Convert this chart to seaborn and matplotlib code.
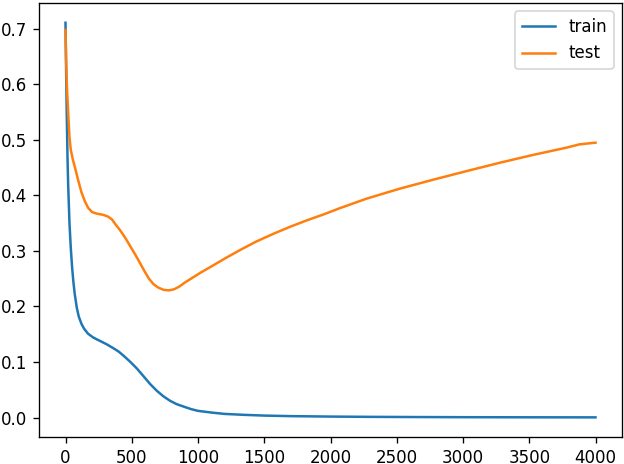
import matplotlib
matplotlib.use("Agg")
import matplotlib.pyplot as plt
import seaborn as sns

# train loss curve
train_epochs = [0, 5, 10, 15, 20, 30, 40, 50, 60, 70, 85, 100, 120, 140, 170,
                210, 260, 310, 360, 400, 440, 490, 540, 590, 640, 690, 740,
                790, 840, 900, 950, 1000, 1100, 1200, 1350, 1500, 1700, 2000,
                2300, 2600, 3000, 3500, 4000]
train_loss = [0.711, 0.62, 0.54, 0.47, 0.42, 0.35, 0.305, 0.27, 0.243, 0.222,
              0.198, 0.182, 0.169, 0.160, 0.151, 0.144, 0.138, 0.132, 0.125,
              0.119, 0.111, 0.100, 0.088, 0.074, 0.060, 0.048, 0.038, 0.030,
              0.024, 0.019, 0.015, 0.012, 0.009, 0.0065, 0.0048, 0.0035,
              0.0025, 0.0017, 0.0012, 0.0009, 0.0006, 0.0004, 0.0003]

# test loss curve
test_epochs = [0, 5, 10, 20, 30, 40, 55, 75, 95, 120, 145, 170, 200, 240, 285,
               320, 350, 380, 410, 450, 490, 530, 565, 600, 630, 665, 700, 740,
               780, 820, 860, 900, 960, 1020, 1100, 1200, 1320, 1440, 1570,
               1700, 1820, 1950, 2070, 2270, 2520, 2770, 3030, 3280, 3530,
               3780, 3880, 4000]
test_loss = [0.698, 0.64, 0.60, 0.55, 0.505, 0.482, 0.465, 0.447, 0.428, 0.406,
             0.390, 0.378, 0.370, 0.367, 0.365, 0.362, 0.357, 0.347, 0.338,
             0.324, 0.308, 0.292, 0.277, 0.262, 0.250, 0.240, 0.234, 0.230,
             0.229, 0.231, 0.236, 0.243, 0.252, 0.261, 0.272, 0.286, 0.302,
             0.317, 0.331, 0.344, 0.355, 0.366, 0.377, 0.394, 0.412, 0.428,
             0.444, 0.459, 0.473, 0.486, 0.492, 0.495]

fig, ax = plt.subplots(figsize=(5.2, 3.8667), dpi=120)
fig.subplots_adjust(left=0.0625, right=0.9968, top=0.9935, bottom=0.058)

sns.lineplot(x=train_epochs, y=train_loss, ax=ax, label="train", color="C0")
sns.lineplot(x=test_epochs, y=test_loss, ax=ax, label="test", color="C1")
ax.legend(loc="upper right")

fig.savefig("out.png", dpi=120)
